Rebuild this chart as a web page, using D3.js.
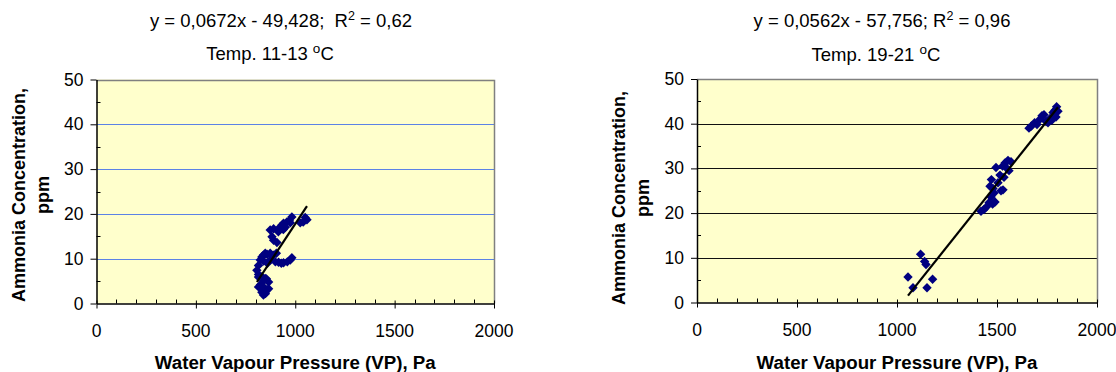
<!DOCTYPE html>
<html>
<head>
<meta charset="utf-8">
<script src="https://cdn.jsdelivr.net/npm/d3@7"></script>
<style>
html,body{margin:0;padding:0;background:#fff;}
svg{display:block;font-family:"Liberation Sans",Arial,sans-serif;}
text{white-space:pre;}
</style>
</head>
<body>
<svg id="chart" width="1116" height="372"></svg>
<script>
// ---------- data ----------
const xTickValues = [0, 500, 1000, 1500, 2000];
const yTickValues = [0, 10, 20, 30, 40, 50];
const xAxisTitle = "Water Vapour Pressure (VP), Pa";
const yAxisTitleLines = ["Ammonia Concentration,", "ppm"];

const leftEquation = ["y = 0,0672x - 49,428;\u00A0 R", "2", " = 0,62"];
const leftTemp = "Temp. 11-13 ";
const leftFit = [0.0672, -49.428];
const leftVP = [874, 891, 883, 891, 908, 924, 941, 933, 950, 958, 970, 983, 975, 1025, 1040, 1059, 1050, 915, 940,
  815, 824, 832, 840, 849, 858, 874, 890, 874, 860, 900, 916, 930, 941, 960, 975, 983, 840, 905,
  807, 815, 815, 832, 849, 840, 866, 815, 825, 840, 832, 840, 850, 857, 866, 830, 855];
const leftNH3 = [16.4, 16.7, 14.9, 14.1, 13.6, 17.1, 17.9, 17.5, 17.0, 18.2, 18.5, 19.3, 18.0, 18.0, 18.2, 18.7, 19.2, 16.0, 16.5,
  8.5, 9.7, 10.4, 10.8, 11.2, 11.0, 11.2, 10.8, 9.7, 9.0, 9.3, 9.2, 9.0, 9.1, 9.3, 9.7, 10.2, 9.5, 11.2,
  7.4, 6.5, 5.9, 6.0, 5.6, 5.0, 4.8, 3.7, 4.2, 3.7, 2.5, 1.9, 2.2, 3.0, 3.3, 3.3, 5.5];

const rightEquation = ["y = 0,0562x - 57,756; R", "2", " = 0,96"];
const rightTemp = "Temp. 19-21 ";
const rightFit = [0.0562, -57.756];
const rightVP = [1055, 1080, 1118, 1138, 1145, 1150, 1178,
  1420, 1435, 1448, 1460, 1478, 1490, 1470, 1485, 1465, 1472, 1480, 1495, 1505, 1520, 1530, 1515, 1535, 1528, 1540, 1550, 1555, 1570, 1560,
  1660, 1672, 1688, 1700, 1715, 1725, 1735, 1745, 1755, 1765, 1775, 1780, 1790, 1798, 1805, 1795];
const rightNH3 = [5.7, 3.3, 10.8, 9.2, 8.5, 3.3, 5.2,
  20.4, 20.8, 21.4, 22.3, 22.0, 22.5, 23.6, 24.5, 26.0, 27.5, 25.5, 30.2, 26.8, 25.0, 25.2, 28.5, 28.0, 30.5, 31.2, 30.0, 31.8, 31.5, 29.5,
  39.0, 39.5, 40.2, 39.8, 41.0, 41.8, 42.0, 40.5, 40.2, 41.2, 40.8, 42.5, 43.0, 43.8, 42.8, 41.5];

// ---------- drawing ----------
const svg = d3.select("#chart");

function drawPanel(p) {
  const x = d3.scaleLinear().domain([0, 2000]).range([p.left, p.right]);
  const y = d3.scaleLinear().domain([0, 50]).range([p.bottom, p.top]);
  const g = svg.append("g");

  // plot background
  g.append("rect").attr("x", p.left).attr("y", p.top)
    .attr("width", p.right - p.left).attr("height", p.bottom - p.top)
    .attr("fill", "#FFFFCC");

  // gridlines
  g.selectAll(".grid").data(yTickValues.filter(v => v > 0 && v < 50)).enter()
    .append("line")
    .attr("x1", p.left).attr("x2", p.right)
    .attr("y1", d => Math.round(y(d)) + 0.5).attr("y2", d => Math.round(y(d)) + 0.5)
    .attr("stroke", p.gridColor).attr("stroke-width", 1);

  // plot border (top / right)
  g.append("path")
    .attr("d", `M${p.left},${Math.round(p.top) + 0.5}H${Math.round(p.right) + 0.5}V${p.bottom}`)
    .attr("fill", "none").attr("stroke", "#808080").attr("stroke-width", 1.5);

  // minor ticks (inside)
  const xMinor = d3.range(0, 2001, 100).filter(v => v % 500 !== 0);
  const yMinor = d3.range(5, 50, 10);
  g.selectAll(".xminor").data(xMinor).enter().append("line")
    .attr("x1", d => Math.round(x(d)) + 0.5).attr("x2", d => Math.round(x(d)) + 0.5)
    .attr("y1", p.bottom).attr("y2", p.bottom - 4)
    .attr("stroke", "#000");
  g.selectAll(".yminor").data(yMinor).enter().append("line")
    .attr("x1", p.left).attr("x2", p.left + 4)
    .attr("y1", d => Math.round(y(d)) + 0.5).attr("y2", d => Math.round(y(d)) + 0.5)
    .attr("stroke", "#000");

  // axes with major ticks
  const xAxis = d3.axisBottom(x).tickValues(xTickValues).tickSize(5).tickSizeOuter(0).tickFormat("");
  const yAxis = d3.axisLeft(y).tickValues(yTickValues).tickSize(6).tickSizeOuter(0).tickFormat("");
  const xa = g.append("g").attr("transform", `translate(0,${p.bottom})`).call(xAxis);
  const ya = g.append("g").attr("transform", `translate(${p.left},0)`).call(yAxis);
  xa.select(".domain").attr("stroke", "#000").attr("stroke-width", 1.5);
  ya.select(".domain").attr("stroke", "#000").attr("stroke-width", 1.5);
  xa.selectAll(".tick line").attr("y1", -3).attr("stroke", "#000");

  // tick labels
  g.selectAll(".xl").data(xTickValues).enter().append("text")
    .attr("x", d => x(d)).attr("y", p.bottom + 27)
    .attr("text-anchor", "middle").attr("dominant-baseline", "central")
    .attr("font-size", 17.5).attr("fill", "#000").text(d => d);
  g.selectAll(".yl").data(yTickValues).enter().append("text")
    .attr("x", p.left - 13).attr("y", d => y(d))
    .attr("text-anchor", "end").attr("dominant-baseline", "central")
    .attr("font-size", 17.5).attr("fill", "#000").text(d => d);

  // points
  const xs = p.vp;
  const x0 = d3.min(xs), x1 = d3.max(xs);
  const pts = xs.map((v, i) => [v, p.nh3[i]]);
  g.selectAll(".pt").data(pts).enter().append("path")
    .attr("transform", d => `translate(${x(d[0])},${y(d[1])})`)
    .attr("d", "M0,-4.7L4.7,0L0,4.7L-4.7,0Z")
    .attr("fill", "#000080");

  // trend line
  g.append("line")
    .attr("x1", x(x0)).attr("y1", y(p.fit[0] * x0 + p.fit[1]))
    .attr("x2", x(x1)).attr("y2", y(p.fit[0] * x1 + p.fit[1]))
    .attr("stroke", "#000").attr("stroke-width", 2.2);

  // titles
  const t1 = svg.append("text").attr("x", p.titleX).attr("y", 27)
    .attr("text-anchor", "middle").attr("font-size", 18.5).attr("fill", "#000");
  t1.append("tspan").text(p.eq[0]);
  t1.append("tspan").attr("dy", -7).attr("font-size", 12.5).text(p.eq[1]);
  t1.append("tspan").attr("dy", 7).text(p.eq[2]);

  const t2 = svg.append("text").attr("x", p.tempX).attr("y", p.tempY)
    .attr("text-anchor", "middle").attr("font-size", 18.5).attr("fill", "#000");
  t2.append("tspan").text(p.temp);
  t2.append("tspan").attr("dy", -7).attr("font-size", 13.5).text("o");
  t2.append("tspan").attr("dy", 7).text("C");

  // axis titles
  svg.append("text").attr("x", (p.left + p.right) / 2).attr("y", 362)
    .attr("text-anchor", "middle").attr("dominant-baseline", "central")
    .attr("font-size", 18.7).attr("font-weight", "bold").attr("fill", "#000")
    .text(xAxisTitle);
  svg.selectAll(null).data(yAxisTitleLines).enter().append("text")
    .attr("transform", (d, i) => `translate(${p.left - 78 + i * 24},${p.yTitleY}) rotate(-90)`)
    .attr("text-anchor", "middle").attr("dominant-baseline", "central")
    .attr("font-size", 18).attr("font-weight", "bold").attr("fill", "#000")
    .text(d => d);
}

drawPanel({left: 96.5, right: 494, top: 79.5, bottom: 303.5, gridColor: "#5B82E6",
  vp: leftVP, nh3: leftNH3, fit: leftFit, eq: leftEquation, temp: leftTemp,
  titleX: 281, tempX: 270, tempY: 60, yTitleY: 195});
drawPanel({left: 697, right: 1097, top: 79, bottom: 302.5, gridColor: "#111",
  vp: rightVP, nh3: rightNH3, fit: rightFit, eq: rightEquation, temp: rightTemp,
  titleX: 882, tempX: 876, tempY: 61, yTitleY: 198});
</script>
</body>
</html>
